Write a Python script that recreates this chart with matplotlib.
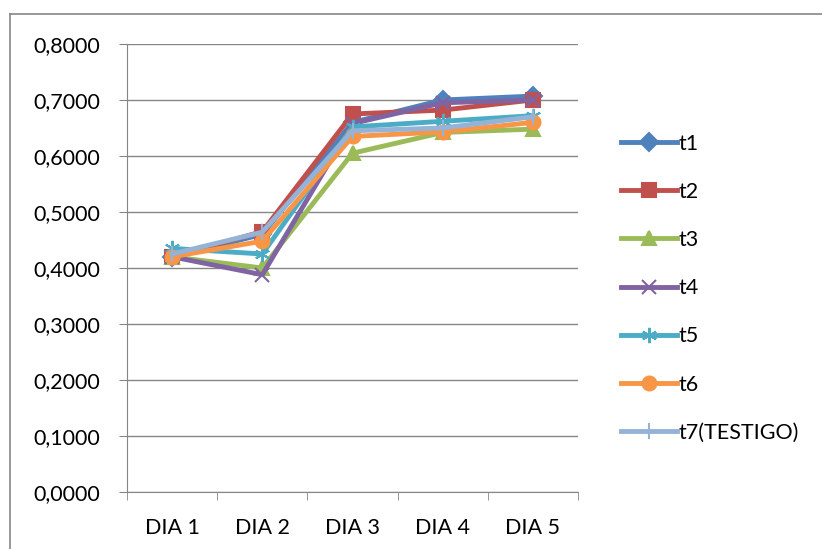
import matplotlib.pyplot as plt
import matplotlib.ticker as mticker
from matplotlib.lines import Line2D

# datos
dias = ["DIA 1", "DIA 2", "DIA 3", "DIA 4", "DIA 5"]
t1 = [0.420, 0.460, 0.660, 0.700, 0.707]
t2 = [0.420, 0.465, 0.675, 0.682, 0.700]
t3 = [0.420, 0.400, 0.605, 0.642, 0.648]
t4 = [0.420, 0.388, 0.658, 0.695, 0.700]
t5 = [0.435, 0.425, 0.652, 0.662, 0.672]
t6 = [0.420, 0.448, 0.635, 0.643, 0.660]
t7 = [0.425, 0.464, 0.645, 0.650, 0.670]

series = [
    ("t1", t1, "#4F81BD", "D", 9),
    ("t2", t2, "#C0504D", "s", 10),
    ("t3", t3, "#9BBB59", "^", 10),
    ("t4", t4, "#8064A2", "x", 10),
    ("t5", t5, "#4BACC6", (6, 2, 0), 11),
    ("t6", t6, "#F79646", "o", 10),
    ("t7(TESTIGO)", t7, "#95B3D7", "|", 12),
]

plt.rcParams['font.family'] = ['Lato', 'DejaVu Sans']

W, H = 822, 549
fig = plt.figure(figsize=(W / 100, H / 100), dpi=100)
ax = fig.add_axes([127 / W, 1 - 492 / H, 451 / W, 448 / H])

x = list(range(len(dias)))
for name, vals, col, mk, ms in series:
    ax.plot(x, vals, color=col, lw=3.5, marker=mk, markersize=ms,
            markeredgecolor=col, markerfacecolor=col, markeredgewidth=1.5,
            label=name)

ax.set_xlim(-0.5, len(dias) - 0.5)
ax.set_ylim(0, 0.8)
ax.yaxis.set_major_locator(mticker.MultipleLocator(0.1))
ax.yaxis.set_major_formatter(mticker.FuncFormatter(lambda v, p: f"{v:.4f}".replace(".", ",")))
ax.set_xticks(x)
ax.set_xticklabels(dias)
ax.set_xticks([i - 0.5 for i in range(len(dias) + 1)], minor=True)
ax.tick_params(axis='x', which='major', length=0, pad=19, labelsize=15.5)
ax.tick_params(axis='x', which='minor', length=6, color='#868686')
ax.tick_params(axis='y', length=6, color='#868686', labelsize=15.5, pad=13)
ax.yaxis.grid(True, color='#868686', lw=1)
ax.set_axisbelow(True)
for s in ['top', 'right']:
    ax.spines[s].set_visible(False)
for s in ['left', 'bottom']:
    ax.spines[s].set_color('#868686')

fig.legend(loc='upper left', bbox_to_anchor=(612 / W, 1 - 125 / H),
           frameon=False, fontsize=15.5, labelspacing=1.31, handlelength=2.6,
           handletextpad=0.1, borderaxespad=0)

# marco del grafico
fig.lines.append(Line2D([10 / W, 10 / W], [0, 1 - 14 / H], transform=fig.transFigure,
                        color='#868686', lw=1.2))
fig.lines.append(Line2D([10 / W, 1], [1 - 14 / H, 1 - 14 / H], transform=fig.transFigure,
                        color='#868686', lw=1.2))

fig.savefig("out.png", dpi=100)
